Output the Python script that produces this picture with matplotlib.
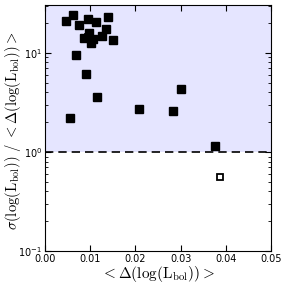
import matplotlib
matplotlib.use("Agg")
import matplotlib.pyplot as plt

plt.rcParams['mathtext.fontset'] = 'cm'

x_filled = [0.00465, 0.0062, 0.00745, 0.0096, 0.0113, 0.01387, 0.0135, 0.0126,
            0.00856, 0.0098, 0.0106, 0.0101, 0.0151, 0.00686, 0.0090, 0.0116,
            0.0056, 0.0207, 0.0283, 0.0300, 0.03754]
y_filled = [20.9, 24.0, 19.2, 21.8, 20.4, 23.0, 17.5, 14.9,
            14.2, 15.7, 13.7, 12.6, 13.5, 9.6, 6.1, 3.57,
            2.21, 2.7, 2.58, 4.3, 1.16]
x_open = [0.0096, 0.0387]
y_open = [14.4, 0.56]

fig = plt.figure(figsize=(2.87, 2.87), dpi=100)
ax = fig.add_axes([0.157, 0.125, 0.787, 0.858])
ax.set_yscale('log')
ax.set_xlim(0, 0.05)
ax.set_ylim(0.1, 30.5)
ax.axhspan(1, 30.5, color='blue', alpha=0.1, lw=0)
ax.axhline(1, color='black', ls=(0, (5, 3)), lw=1.2)
ax.plot(x_open, y_open, 's', mfc='white', mec='black', mew=1.3, ms=4.2, zorder=2)
ax.plot(x_filled, y_filled, 's', color='black', ms=5.8, zorder=3)

ax.set_xticks([0, 0.01, 0.02, 0.03, 0.04, 0.05])
ax.set_xticklabels(['0.00', '0.01', '0.02', '0.03', '0.04', '0.05'])
ax.tick_params(which='both', direction='in', top=True, right=True, labelsize=7, pad=2)
ax.tick_params(which='major', length=4)
ax.tick_params(which='minor', length=2)
ax.set_xlabel(r'$<\Delta(\log(\mathrm{L_{bol}}))>$', fontsize=11, labelpad=0)
ax.set_ylabel(r'$\sigma(\log(\mathrm{L_{bol}}))\ /\ <\Delta(\log(\mathrm{L_{bol}}))>$',
              fontsize=10.5, va='center')
ax.yaxis.set_label_coords(-0.14, 0.49)

fig.savefig('out.png', dpi=100)
